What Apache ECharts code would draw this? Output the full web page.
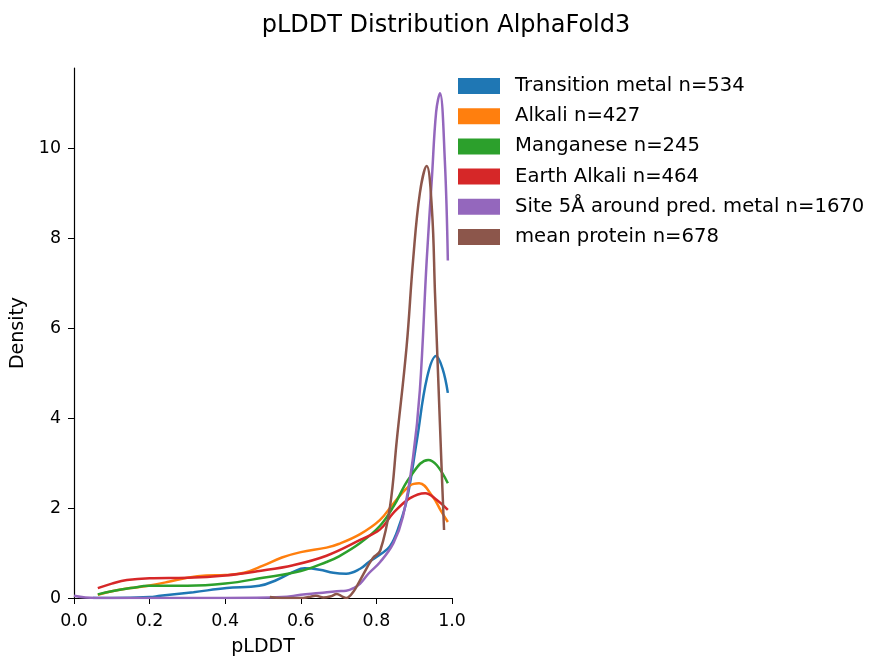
<!DOCTYPE html>
<html>
<head>
<meta charset="utf-8">
<script src="https://cdn.jsdelivr.net/npm/echarts@6/dist/echarts.min.js"></script>
<style>
  html, body { margin: 0; padding: 0; background: #fff; }
  #chart { width: 870px; height: 658px; }
</style>
</head>
<body>
<div id="chart"></div>
<script>
// density curves as [pLDDT, density]
const transitionMetal = [[0.05,0],[0.1,0],[0.2,0.02],[0.228,0.05],[0.316,0.13],[0.404,0.22],[0.49,0.27],[0.536,0.4],[0.58,0.58],[0.61,0.66],[0.65,0.63],[0.686,0.56],[0.72,0.54],[0.757,0.65],[0.78,0.8],[0.809,0.96],[0.836,1.15],[0.86,1.6],[0.881,2.2],[0.907,3.5],[0.934,4.9],[0.958,5.38],[0.975,5.1],[0.989,4.56]];
const alkali = [[0.063,0.07],[0.1,0.15],[0.15,0.22],[0.2,0.28],[0.25,0.36],[0.3,0.45],[0.35,0.5],[0.4,0.51],[0.45,0.56],[0.5,0.72],[0.55,0.9],[0.6,1.02],[0.668,1.12],[0.7,1.2],[0.757,1.42],[0.809,1.73],[0.845,2.1],[0.889,2.5],[0.913,2.55],[0.95,2.24],[0.97,1.95],[0.989,1.69]];
const manganese = [[0.063,0.08],[0.1,0.15],[0.15,0.22],[0.2,0.27],[0.3,0.27],[0.4,0.32],[0.5,0.45],[0.6,0.6],[0.668,0.8],[0.7,0.92],[0.757,1.22],[0.809,1.6],[0.845,2.03],[0.889,2.69],[0.937,3.07],[0.96,2.95],[0.989,2.55]];
const earthAlkali = [[0.063,0.22],[0.1,0.32],[0.14,0.4],[0.2,0.44],[0.3,0.45],[0.4,0.5],[0.49,0.6],[0.58,0.73],[0.668,0.94],[0.757,1.29],[0.809,1.52],[0.845,1.89],[0.889,2.22],[0.929,2.33],[0.96,2.18],[0.989,1.96]];
const siteAround = [[0,0.05],[0.03,0.01],[0.06,0],[0.2,0],[0.4,0],[0.55,0.02],[0.6,0.07],[0.65,0.11],[0.695,0.15],[0.72,0.16],[0.74,0.22],[0.757,0.32],[0.78,0.55],[0.81,0.8],[0.845,1.22],[0.87,1.8],[0.897,3.13],[0.915,4.62],[0.933,7.5],[0.947,9.36],[0.958,10.8],[0.968,11.22],[0.981,9.73],[0.989,7.5]];
const meanProtein = [[0.518,0.02],[0.55,0],[0.6,0],[0.62,0.02],[0.64,0.05],[0.66,0.01],[0.68,0.04],[0.695,0.09],[0.71,0.03],[0.72,0],[0.74,0.15],[0.757,0.4],[0.79,0.88],[0.81,1.05],[0.836,2.03],[0.854,3.51],[0.88,5.6],[0.897,7.5],[0.915,9.0],[0.933,9.6],[0.947,8.62],[0.955,6.78],[0.963,5.0],[0.973,2.78],[0.979,1.51]];

const seriesNames = ['Transition metal n=534', 'Alkali n=427', 'Manganese n=245', 'Earth Alkali n=464', 'Site 5Å around pred. metal n=1670', 'mean protein n=678'];
const seriesData = [transitionMetal, alkali, manganese, earthAlkali, siteAround, meanProtein];
const colors = ['#1f77b4', '#ff7f0e', '#2ca02c', '#d62728', '#9467bd', '#8c564b'];
const xTicks = [0, 0.2, 0.4, 0.6, 0.8, 1.0];
const yTicks = [0, 2, 4, 6, 8, 10];

const font = 'DejaVu Sans';
const chart = echarts.init(document.getElementById('chart'));

chart.setOption({
  animation: false,
  textStyle: { fontFamily: font },
  title: {
    text: 'pLDDT Distribution AlphaFold3',
    left: 441, top: 9, textAlign: 'center',
    textStyle: { fontFamily: font, fontSize: 24, fontWeight: 'normal', color: '#000' }
  },
  legend: {
    orient: 'vertical',
    left: 453, top: 71,
    itemWidth: 42, itemHeight: 16, itemGap: 10.2,
    icon: 'rect',
    data: seriesNames,
    textStyle: { fontFamily: font, fontSize: 19.6, color: '#000', padding: [0, 0, 0, 10] }
  },
  grid: { left: 74, top: 68, width: 378, height: 530, outerBoundsMode: 'none' },
  xAxis: {
    type: 'value', min: 0, max: 1, interval: 0.2,
    name: 'pLDDT', nameLocation: 'middle', nameGap: 40,
    nameTextStyle: { fontFamily: font, fontSize: 19, color: '#000' },
    axisLine: { lineStyle: { color: '#000', width: 1.2 } },
    axisTick: { show: true, length: 6, lineStyle: { color: '#000' } },
    axisLabel: { fontFamily: font, fontSize: 17.4, color: '#000', margin: 15,
      formatter: v => xTicks.indexOf(v) >= 0 ? v.toFixed(1) : '' },
    splitLine: { show: false }
  },
  yAxis: {
    type: 'value', min: 0, max: 11.78, interval: 2,
    name: 'Density', nameLocation: 'middle', nameGap: 46,
    nameTextStyle: { fontFamily: font, fontSize: 19, color: '#000' },
    axisLine: { show: true, lineStyle: { color: '#000', width: 1.2 } },
    axisTick: { show: true, length: 6, lineStyle: { color: '#000' } },
    axisLabel: { fontFamily: font, fontSize: 17.4, color: '#000', margin: 13,
      showMaxLabel: false,
      formatter: v => yTicks.indexOf(v) >= 0 ? String(v) : '' },
    splitLine: { show: false }
  },
  series: seriesData.map((d, i) => ({
    name: seriesNames[i],
    type: 'line',
    data: d,
    smooth: 0.4,
    showSymbol: false,
    color: colors[i],
    lineStyle: { width: 2.5, color: colors[i] }
  }))
});
</script>
</body>
</html>
